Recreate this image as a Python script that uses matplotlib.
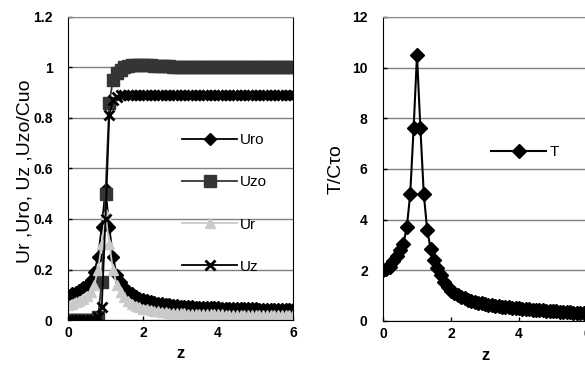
import matplotlib.pyplot as plt
import numpy as np

plt.rcParams['font.family'] = ['Liberation Sans', 'DejaVu Sans']

z = [0.0, 0.1, 0.2, 0.3, 0.4, 0.5, 0.6, 0.7, 0.8, 0.9,
     1.0, 1.1, 1.2, 1.3, 1.4, 1.5, 1.6, 1.7, 1.8, 1.9,
     2.0, 2.1, 2.2, 2.3, 2.4, 2.5, 2.6, 2.7, 2.8, 2.9,
     3.0, 3.1, 3.2, 3.3, 3.4, 3.5, 3.6, 3.7, 3.8, 3.9,
     4.0, 4.1, 4.2, 4.3, 4.4, 4.5, 4.6, 4.7, 4.8, 4.9,
     5.0, 5.1, 5.2, 5.3, 5.4, 5.5, 5.6, 5.7, 5.8, 5.9, 6.0]

Uro = [0.10, 0.105, 0.11, 0.12, 0.13, 0.14, 0.16, 0.19, 0.25, 0.37,
       0.52, 0.37, 0.25, 0.18, 0.15, 0.13, 0.115, 0.105, 0.095, 0.088,
       0.082, 0.078, 0.074, 0.071, 0.068, 0.066, 0.064, 0.062, 0.060, 0.058,
       0.057, 0.056, 0.055, 0.054, 0.053, 0.052, 0.052, 0.051, 0.051, 0.050,
       0.050, 0.049, 0.049, 0.048, 0.048, 0.047, 0.047, 0.047, 0.046, 0.046,
       0.046, 0.045, 0.045, 0.045, 0.044, 0.044, 0.044, 0.043, 0.043, 0.043, 0.042]

Uzo = [0.0, 0.0, 0.0, 0.0, 0.0, 0.0, 0.0, 0.0, 0.01, 0.15,
       0.50, 0.86, 0.95, 0.98, 0.99, 1.0, 1.005, 1.01, 1.01, 1.01,
       1.01, 1.01, 1.01, 1.005, 1.005, 1.005, 1.005, 1.005, 1.0, 1.0,
       1.0, 1.0, 1.0, 1.0, 1.0, 1.0, 1.0, 1.0, 1.0, 1.0,
       1.0, 1.0, 1.0, 1.0, 1.0, 1.0, 1.0, 1.0, 1.0, 1.0,
       1.0, 1.0, 1.0, 1.0, 1.0, 1.0, 1.0, 1.0, 1.0, 1.0, 1.0]

Ur = [0.06, 0.065, 0.07, 0.075, 0.085, 0.095, 0.11, 0.14, 0.20, 0.30,
      0.42, 0.30, 0.20, 0.14, 0.11, 0.09, 0.075, 0.065, 0.057, 0.050,
      0.045, 0.042, 0.039, 0.036, 0.034, 0.032, 0.030, 0.029, 0.028, 0.027,
      0.026, 0.026, 0.025, 0.025, 0.024, 0.024, 0.023, 0.023, 0.023, 0.022,
      0.022, 0.022, 0.021, 0.021, 0.021, 0.021, 0.020, 0.020, 0.020, 0.020,
      0.020, 0.019, 0.019, 0.019, 0.019, 0.019, 0.018, 0.018, 0.018, 0.018, 0.018]

Uz = [0.0, 0.0, 0.0, 0.0, 0.0, 0.0, 0.0, 0.0, 0.01, 0.05,
      0.40, 0.81, 0.87, 0.885, 0.89, 0.89, 0.89, 0.89, 0.89, 0.89,
      0.89, 0.89, 0.89, 0.89, 0.89, 0.89, 0.89, 0.89, 0.89, 0.89,
      0.89, 0.89, 0.89, 0.89, 0.89, 0.89, 0.89, 0.89, 0.89, 0.89,
      0.89, 0.89, 0.89, 0.89, 0.89, 0.89, 0.89, 0.89, 0.89, 0.89,
      0.89, 0.89, 0.89, 0.89, 0.89, 0.89, 0.89, 0.89, 0.89, 0.89, 0.89]

T = [2.0, 2.05, 2.15, 2.35, 2.55, 2.8, 3.05, 3.7, 5.0, 7.6,
     10.5, 7.6, 5.0, 3.6, 2.85, 2.4, 2.1, 1.8, 1.55, 1.35,
     1.2, 1.1, 1.02, 0.95, 0.89, 0.84, 0.80, 0.76, 0.73, 0.70,
     0.67, 0.65, 0.63, 0.61, 0.59, 0.57, 0.55, 0.54, 0.52, 0.51,
     0.50, 0.48, 0.47, 0.46, 0.45, 0.44, 0.43, 0.42, 0.41, 0.40,
     0.39, 0.38, 0.37, 0.36, 0.35, 0.34, 0.33, 0.32, 0.31, 0.30, 0.30]

left_yticks = [0, 0.2, 0.4, 0.6, 0.8, 1, 1.2]
left_ylabels = ['0', '0.2', '0.4', '0.6', '0.8', '1', '1.2']
right_yticks = [0, 2, 4, 6, 8, 10, 12]
xticks = [0, 2, 4, 6]

W, H = 585, 369
fig = plt.figure(figsize=(W / 100, H / 100), dpi=100)
ax1 = fig.add_axes([68 / W, (H - 320) / H, 225 / W, 303 / H])
ax2 = fig.add_axes([383 / W, (H - 321) / H, 204 / W, 304 / H])


def style(ax):
    ax.set_axisbelow(True)
    ax.grid(axis='y', color='#808080', lw=1)
    ax.tick_params(direction='in', length=3, width=1)
    ax.tick_params(axis='y', pad=11)
    ax.tick_params(axis='x', pad=4)
    for lab in ax.get_xticklabels() + ax.get_yticklabels():
        lab.set_fontweight('bold')
        lab.set_fontsize(10)
    ax.spines['top'].set_color('#888888')
    ax.spines['top'].set_linestyle((0, (4, 1)))
    ax.set_xlabel('z', fontsize=12, fontweight='bold', labelpad=5)


ax1.plot(z, Uro, color='black', marker='D', ms=6.5, lw=1.3, label='Uro')
ax1.plot(z, Uzo, color='#353535', marker='s', ms=8, lw=1.3, label='Uzo')
ax1.plot(z, Ur, color='#cacaca', marker='^', ms=7, lw=1.3, label='Ur')
ax1.plot(z, Uz, color='black', marker='x', ms=7, mew=2, lw=1.3, label='Uz')
ax1.set_xlim(0, 6)
ax1.set_ylim(0, 1.2)
ax1.set_xticks(xticks)
ax1.set_yticks(left_yticks)
ax1.set_yticklabels(left_ylabels)
style(ax1)
ax1.set_ylabel('Ur ,Uro, Uz ,Uzo/Cuo', fontsize=14)
ax1.yaxis.set_label_coords(-0.155, 0.49)
ax1.legend(loc='upper left', bbox_to_anchor=(0.507, 0.617), frameon=False,
           fontsize=11, handlelength=3.6, handletextpad=0.2, labelspacing=1.85,
           borderpad=0, borderaxespad=0)

ax2.plot(z, T, color='black', marker='D', ms=7.5, lw=1.5, label='T')
ax2.set_xlim(0, 6)
ax2.set_ylim(0, 12)
ax2.set_xticks(xticks)
ax2.set_yticks(right_yticks)
style(ax2)
ax2.set_ylabel('T/Cτo', fontsize=14)
ax2.yaxis.set_label_coords(-0.19, 0.5)
ax2.legend(loc='center left', bbox_to_anchor=(0.53, 0.555), frameon=False,
           fontsize=11, handlelength=3.6, handletextpad=0.2,
           borderpad=0, borderaxespad=0)

fig.savefig('out.png', dpi=100)
